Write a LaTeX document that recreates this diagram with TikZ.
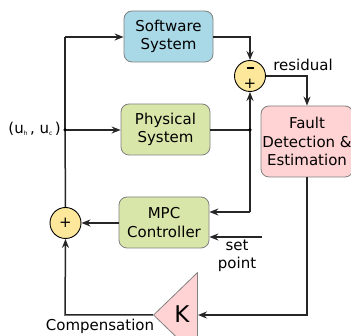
\documentclass[tikz,border=0pt]{standalone}
\usepackage{fontspec}
\setmainfont{DejaVu Sans}
\usetikzlibrary{arrows.meta,shapes.geometric}
\definecolor{swblue}{HTML}{A9D9E6}
\definecolor{phgreen}{HTML}{D9E6A9}
\definecolor{fdpink}{HTML}{FFD3D3}
\definecolor{sumyellow}{HTML}{FDE79A}
\definecolor{edgegray}{HTML}{808080}
\tikzset{
  blk/.style={draw=edgegray, line width=0.8pt, rounded corners=8pt, align=center,
    inner sep=0pt, font=\fontsize{15}{18.5}\selectfont},
  sumc/.style={circle, draw=black, line width=0.9pt, fill=sumyellow, minimum size=31pt, inner sep=0pt},
  conn/.style={line width=1.5pt, draw=black!85},
  arr/.style={conn, -{Stealth[length=9pt,width=7pt,inset=3pt]}},
  lbl/.style={font=\fontsize{15}{17}\selectfont, inner sep=0pt, align=center},
  dotp/.style={circle, fill=black, inner sep=0pt, minimum size=3.5pt}
}
\begin{document}
\begin{tikzpicture}[x=1pt,y=-1pt]
\useasboundingbox (0,0) rectangle (351,336);
\clip (0,0) rectangle (351,336);
% blocks
\node[blk, fill=swblue, minimum width=89pt, minimum height=51pt] (sw) at (168.5,36.5) {Software\\System};
\node[blk, fill=phgreen, minimum width=89pt, minimum height=51pt] (ph) at (165.5,129.5) {Physical\\System};
\node[blk, fill=phgreen, minimum width=90pt, minimum height=51pt] (mpc) at (164,222.5) {MPC\\Controller};
\node[blk, fill=fdpink, minimum width=92pt, minimum height=71pt] (fd) at (307,141.5) {Fault\\Detection \&\\Estimation};
% sums
\node[sumc] (s1) at (250,76) {};
\node[inner sep=0pt] (s1m) at (250,68) {\rule{7pt}{2.2pt}};
\node[font=\fontsize{15}{15}\selectfont, inner sep=0pt] (s1p) at (250,84) {+};
\node[sumc] (s2) at (65.5,223) {};
\node[font=\fontsize{15}{15}\selectfont, inner sep=0pt] (s2p) at (65.5,223) {+};
% gain
\node[isosceles triangle, shape border rotate=180, isosceles triangle apex angle=88,
  draw=edgegray, line width=0.8pt, fill=fdpink, minimum height=44pt, inner sep=0pt,
  anchor=apex] (k) at (153,315) {};
\node[font=\fontsize{23}{23}\selectfont, inner sep=0pt] (kl) at (182,314) {K};
% coordinates
\coordinate (in) at (65,130);
\coordinate (c1) at (65,37);
\coordinate (c2) at (250,37);
\coordinate (j1) at (250,130);
\coordinate (j2) at (250,212);
\coordinate (c3) at (307,76);
\coordinate (c4) at (307,315);
\coordinate (c5) at (65,315);
\coordinate (sp) at (262,237);
% labels
\node[lbl, anchor=east] (ulbl) at (61,129) {(u\raisebox{-2pt}{\fontsize{6}{6}\selectfont h}\,, u\raisebox{-2pt}{\fontsize{6}{6}\selectfont c}\,)};
\node[lbl] (res) at (303,65) {residual};
\node[lbl, font=\fontsize{15}{18}\selectfont] (spl) at (237,256) {set\\point};
\node[lbl] (comp) at (100,326) {Compensation};
% connectors
\draw[conn] (in) -- (c1);
\draw[arr] (c1) -- (sw.west |- c1);
\draw[arr] (in) -- (ph.west |- in);
\draw[conn] (in) -- (s2.north);
\draw[arr] (sw.east |- c2) -- (c2) -- (s1.north);
\draw[conn] (ph.east |- j1) -- (j1);
\draw[arr] (j2) -- (s1.south);
\draw[arr] (j2) -- (mpc.east |- j2);
\draw[arr] (s1.east) -- (c3) -- (fd.north);
\draw[arr] (fd.south) -- (c4) -- (k.east |- c4);
\draw[arr] (k.apex) -- (c5) -- (s2.south);
\draw[arr] (mpc.west |- s2) -- (s2.east);
\draw[arr] (sp) -- (mpc.east |- sp);
\node[dotp] at (in) {};
\node[dotp] at (j1) {};
\end{tikzpicture}
\end{document}
